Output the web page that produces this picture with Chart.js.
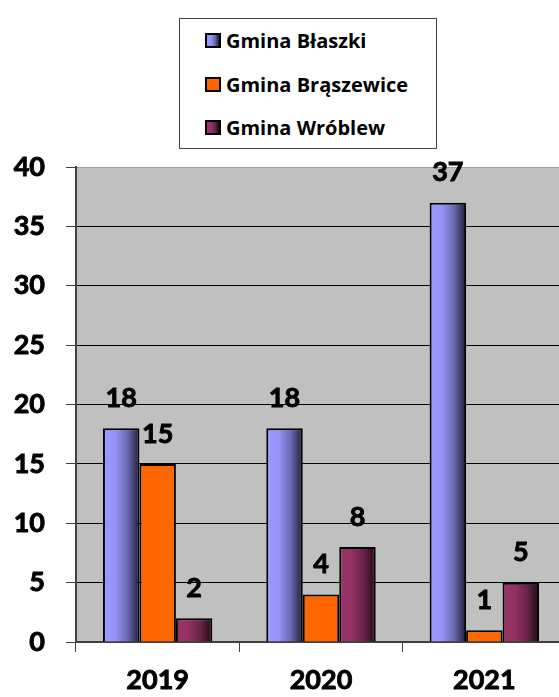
<!DOCTYPE html>
<html>
<head>
<meta charset="utf-8">
<script src="https://cdn.jsdelivr.net/npm/chart.js"></script>
<style>
  body { margin: 0; overflow: hidden; background: #fff; font-family: Lato, sans-serif; }
  #wrap { position: relative; width: 570px; height: 697px; }
  #legend {
    position: absolute; left: 179px; top: 18px; width: 256px; height: 129px;
    border: 1px solid #404040; background: #fff; box-sizing: content-box;
  }
  .item { display: flex; align-items: center; height: 43.5px; padding-left: 25px;
    font-family: "Open Sans", sans-serif; font-weight: bold; font-size: 20px; color: #000; }
  .swatch { width: 16px; height: 15px; border: 2px solid #000; box-sizing: border-box; margin-right: 5px; }
</style>
</head>
<body>
<div id="wrap">
  <canvas id="chart"></canvas>
  <div id="legend"></div>
</div>
<script>
const years = ["2019", "2020", "2021"];
const seriesNames = ["Gmina Błaszki", "Gmina Brąszewice", "Gmina Wróblew"];
const blaszki = [18, 18, 37];
const braszewice = [15, 4, 1];
const wroblew = [2, 8, 5];

const blueShade = ["#9999ff", "#9595f8", "#6a6ab0", "#1c1c3a"];
const orangeShade = ["#ff6600", "#ff6600"];
const purpleShade = ["#993366", "#943264", "#6a2449", "#1e0a15"];

// replace the flat fill of each bar with a left-to-right gradient
const barShading = {
  id: "barShading",
  beforeDatasetsDraw(chart) {
    const ctx = chart.ctx;
    chart.data.datasets.forEach((ds, i) => {
      chart.getDatasetMeta(i).data.forEach(bar => {
        const half = bar.width / 2;
        const g = ctx.createLinearGradient(bar.x - half, 0, bar.x + half, 0);
        ds.shade.forEach((c, k) => g.addColorStop(k / (ds.shade.length - 1), c));
        bar.options = Object.assign({}, bar.options, { backgroundColor: g });
      });
    });
  }
};

const plotBackground = {
  id: "plotBackground",
  beforeDraw(chart) {
    const a = chart.chartArea;
    chart.ctx.save();
    chart.ctx.fillStyle = "#c0c0c0";
    chart.ctx.fillRect(a.left, a.top, a.right - a.left, a.bottom - a.top);
    chart.ctx.restore();
  }
};

const valueLabels = {
  id: "valueLabels",
  afterDatasetsDraw(chart) {
    const ctx = chart.ctx;
    ctx.save();
    ctx.font = "bold 27px Lato";
    ctx.fillStyle = "#000";
    ctx.strokeStyle = "#000";
    ctx.lineWidth = 0.9;
    ctx.textAlign = "center";
    ctx.textBaseline = "middle";
    chart.data.datasets.forEach((ds, i) => {
      chart.getDatasetMeta(i).data.forEach((bar, j) => {
        ctx.fillText(ds.data[j], bar.x, bar.y - 30);
        ctx.strokeText(ds.data[j], bar.x, bar.y - 30);
      });
    });
    ctx.restore();
  }
};

const tickFont = { family: "Lato", size: 27, weight: "bold" };

new Chart("chart", {
  type: "bar",
  data: {
    labels: years,
    datasets: [
      { label: seriesNames[0], data: blaszki, shade: blueShade },
      { label: seriesNames[1], data: braszewice, shade: orangeShade },
      { label: seriesNames[2], data: wroblew, shade: purpleShade },
    ].map(d => Object.assign(d, {
      backgroundColor: d.shade[0],
      borderColor: "#000",
      borderWidth: 2,
      barPercentage: 1,
      categoryPercentage: 0.67,
    })),
  },
  options: {
    responsive: true,
    maintainAspectRatio: false,
    animation: false,
    layout: { padding: { top: 167, right: 4, left: 0, bottom: 0 } },
    plugins: { legend: { display: false }, tooltip: { enabled: false } },
    scales: {
      x: {
        ticks: { padding: 12, color: "#000", font: tickFont, textStrokeColor: "#000", textStrokeWidth: 0.9 },
        grid: { drawOnChartArea: false, offset: true, tickLength: 10, color: "#404040" },
        border: { color: "#404040", width: 2 },
        afterFit: s => { s.height = 55; },
      },
      y: {
        min: 0,
        max: 40,
        ticks: { stepSize: 5, padding: 21, color: "#000", font: tickFont, textStrokeColor: "#000", textStrokeWidth: 0.9 },
        grid: {
          color: c => (c.tick && c.tick.value === 40 ? "#a0a0a0" : "#000"),
          tickColor: "#404040",
          tickLength: 10,
        },
        border: { color: "#404040", width: 2 },
        afterFit: s => { s.width = 76; },
      },
    },
  },
  plugins: [plotBackground, barShading, valueLabels],
});

const legendShades = [blueShade, orangeShade, purpleShade];
document.getElementById("legend").innerHTML = seriesNames.map((n, i) =>
  '<div class="item"><span class="swatch" style="background:linear-gradient(to right,' +
  legendShades[i].join(",") + ')"></span>' + n + "</div>").join("");
</script>
</body>
</html>
